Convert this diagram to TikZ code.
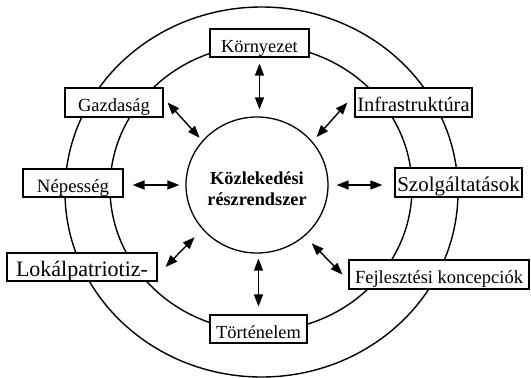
\documentclass[tikz,border=0pt]{standalone}
\usepackage{fontspec}
\setmainfont{Liberation Serif}
\usetikzlibrary{arrows.meta,shapes.geometric}

\tikzset{
  ring/.style={line width=1.4pt},
  item/.style={draw, line width=1.1pt, fill=white, rectangle, inner xsep=2pt, inner ysep=2pt,
    text height=18pt, text depth=0pt},
  fs/.style={font=\fontsize{#1}{#1}\selectfont},
  arr/.style={{Triangle[length=12pt,width=9pt]}-{Triangle[length=12pt,width=9pt]}, line width=1.4pt},
}

\begin{document}
\begin{tikzpicture}[x=1pt, y=-1pt]
  \useasboundingbox (0,0) rectangle (531,378);

  % outer and middle rings
  \draw[ring] (261.5,192) ellipse [x radius=196.5pt, y radius=185pt];
  \draw[ring] (261,188) ellipse [x radius=151pt, y radius=143pt];

  % core
  \node[draw, ellipse, line width=1.3pt, minimum width=142pt, minimum height=136pt, inner sep=0pt]
    (core) at (257,185) {};
  \node[align=center, font=\fontsize{18.3}{21}\selectfont\bfseries] (coretext) at (257,188.5)
    {Közlekedési\\részrendszer};

  % surrounding factors
  \node[item, fs=18.4, minimum width=99pt, minimum height=28pt] (korny) at (259.5,43) {Környezet};
  \node[item, fs=18.5, minimum width=98pt, minimum height=29pt] (gaz) at (114,102.5) {Gazdaság};
  \node[item, fs=20.4, minimum width=117pt, minimum height=29pt] (infra) at (413.5,102.5) {Infrastruktúra};
  \node[item, fs=18.8, minimum width=100pt, minimum height=28pt] (nep) at (73,183) {Népesség};
  \node[item, fs=21, minimum width=127pt, minimum height=29pt] (szolg) at (458.5,182.5) {Szolgáltatások};
  \node[item, fs=22, minimum width=150pt, minimum height=28pt] (lok) at (82,267) {Lokálpatriotiz-};
  \node[item, fs=18.5, minimum width=180pt, minimum height=29pt] (fejl) at (439,274.5) {Fejlesztési koncepciók};
  \node[item, fs=18.4, minimum width=97pt, minimum height=28pt] (tort) at (258.5,329) {Történelem};

  % two-way links
  \draw[arr, shorten <=6pt, shorten >=7pt] (korny.south) -- (korny.south |- core.north);
  \draw[arr, shorten <=5pt, shorten >=8pt] (tort.north |- core.south) -- (tort.north);
  \draw[arr, shorten <=9pt, shorten >=6pt] (core.west -| nep.east) -- (core.west);
  \draw[arr, shorten <=8pt, shorten >=12pt] (core.east) -- (core.east -| szolg.west);
  \draw[arr, shorten >=4pt] ([xshift=4pt]gaz.east) -- (core.141);
  \draw[arr, shorten >=6pt] ([xshift=-7pt]infra.west) -- (core.38);
  \draw[arr, shorten >=11pt] ([xshift=8pt]lok.east) -- (core.219);
  \draw[arr, shorten <=10pt] (core.-47) -- ([xshift=-6pt]fejl.west);
\end{tikzpicture}
\end{document}
